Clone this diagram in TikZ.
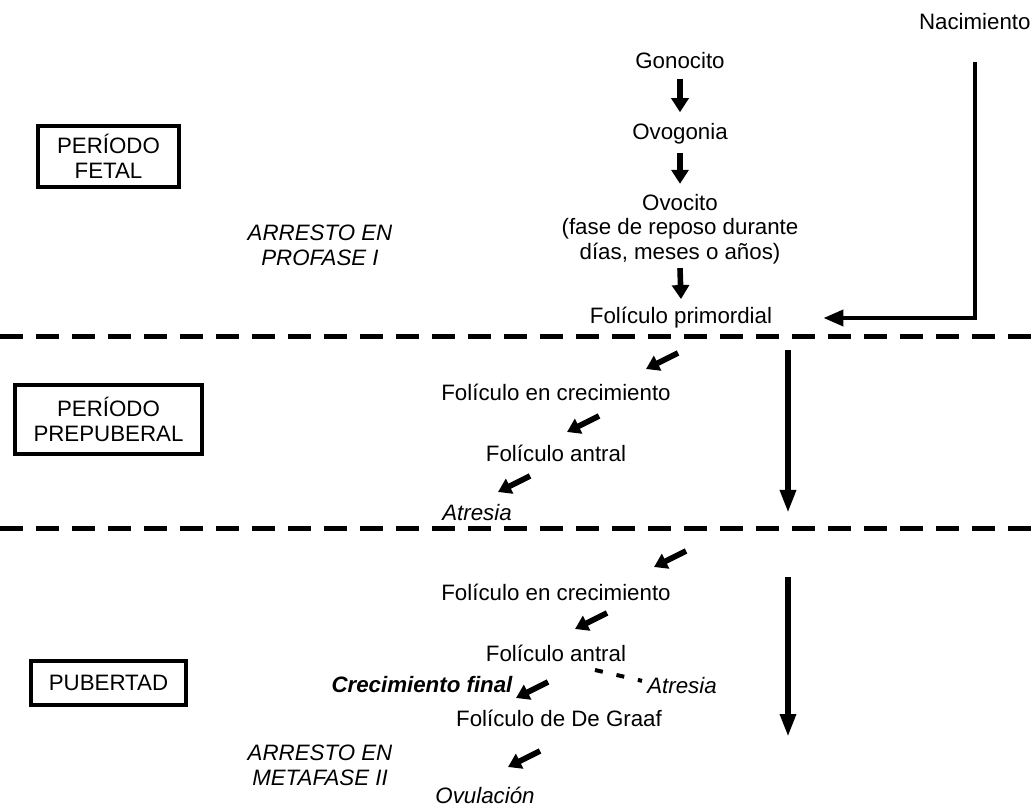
\documentclass[tikz,border=0pt]{standalone}
\usepackage{fontspec}
\setmainfont{Liberation Sans}
\usetikzlibrary{arrows.meta}

\begin{document}
\begin{tikzpicture}[x=0.5pt,y=-0.5pt,
    every node/.style={inner sep=0pt, align=center, font=\fontsize{11.15}{12.2}\selectfont},
    periodbox/.style={draw, line width=2pt},
    arrestlabel/.style={font=\fontsize{11.15}{12.5}\selectfont\itshape},
    fate/.style={font=\fontsize{11.15}{12.2}\selectfont\itshape},
    downarrow/.style={line width=2.8pt, -{Triangle[length=7pt,width=8.5pt]}},
    diagarrow/.style={line width=2.8pt, -{Triangle[length=6.5pt,width=8pt]}},
    timearrow/.style={line width=3pt, -{Triangle[length=11.5pt,width=7.5pt]}},
    birtharrow/.style={line width=2pt, -{Triangle[length=10pt,width=8pt]}},
    separator/.style={line width=2.5pt, dash pattern=on 11.5pt off 6.5pt}]
  \useasboundingbox (0,0) rectangle (1034,807);

  % Fetal period
  \node (nac) [anchor=east] at (1031,22) {Nacimiento};
  \node (gono) at (680,61) {Gonocito};
  \node (ovog) at (680,134) {Ovogonia};
  \node (ovoc) at (680,229) {Ovocito\\(fase de reposo durante\\días, meses o años)};
  \node (prim) at (681,318) {Folículo primordial};
  \node (fetal) [periodbox, minimum width=70.5pt, minimum height=30.5pt] at (108.5,156.5) {PERÍODO\\FETAL};
  \node (profase) [arrestlabel] at (320,245.5) {ARRESTO EN\\PROFASE I};

  \draw[downarrow] ([yshift=-4.5pt]gono.south) -- ([yshift=5.5pt]ovog.north);
  \draw[downarrow] ([yshift=-4pt]ovog.south) -- ([yshift=5pt]ovoc.north);
  \draw[downarrow] ([yshift=-2pt]ovoc.south) -- ([yshift=4pt]prim.north);

  % Birth line
  \coordinate (birth) at (975,62);
  \draw[birtharrow] (birth) |- ([xshift=25.5pt]prim.east);

  % Period borders
  \draw[separator] (0,337) -- (1034,337);
  \draw[separator] (0,529) -- (1034,529);

  % Prepubertal period
  \node (crec1) at (556,392) {Folículo en crecimiento};
  \node (antr1) at (556,453) {Folículo antral};
  \node (atr1) [fate] at (477,513) {Atresia};
  \node (prepub) [periodbox, minimum width=93.5pt, minimum height=34.5pt] at (108.5,419.5) {PERÍODO\\PREPUBERAL};

  % Puberty
  \node (crec2) at (556,592) {Folículo en crecimiento};
  \node (antr2) at (556,653) {Folículo antral};
  \node (atr2) [fate] at (682,686) {Atresia};
  \node (final) [font=\fontsize{11.15}{12.2}\selectfont\bfseries\itshape] at (422,685) {Crecimiento final};
  \node (graaf) at (559,718) {Folículo de De Graaf};
  \node (ovul) [fate] at (485,795) {Ovulación};
  \node (pub) [periodbox, minimum width=77.5pt, minimum height=22pt] at (108.5,683) {PUBERTAD};
  \node (metafase) [arrestlabel] at (320,765) {ARRESTO EN\\METAFASE II};

  % Short arrows between stages
  \foreach \x/\y [count=\i] in {678/353, 599/416, 530/476, 686/551, 607/613, 548/682, 540/751} {
    \coordinate (d\i) at (\x,\y);
    \draw[diagarrow] (d\i) -- ++(-32,16);
  }

  \coordinate (atrstart) at (595,670);
  \draw[line width=2pt, dash pattern=on 4pt off 7pt, shorten >=2.5pt] (atrstart) -- ([yshift=2pt]atr2.west);

  % Time arrows
  \coordinate (prepubtop) at (788,350);
  \coordinate (prepubend) at (788,513);
  \draw[timearrow] (prepubtop) -- (prepubend);
  \coordinate (pubtop) at (788,577);
  \coordinate (pubend) at (788,737);
  \draw[timearrow] (pubtop) -- (pubend);
\end{tikzpicture}
\end{document}
